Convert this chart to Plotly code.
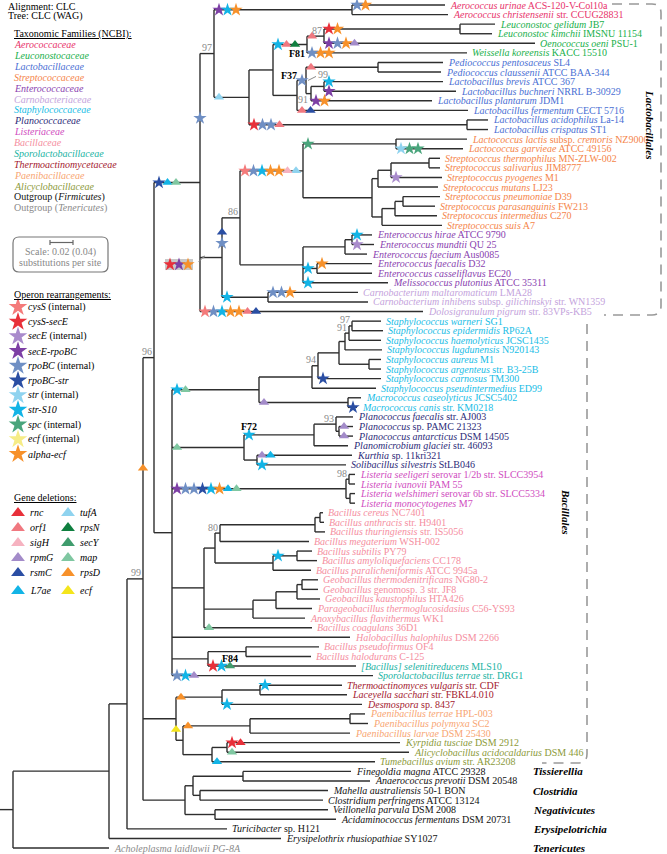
import plotly.graph_objects as go
from collections import defaultdict

# ---------------- taxonomic families ----------------
family_names = ["Aerococcaceae", "Leuconostocaceae", "Lactobacillaceae", "Streptococcaceae",
                "Enterococcaceae", "Carnobacteriaceae", "Staphylococcaceae", "Planococcaceae",
                "Listeriaceae", "Bacillaceae", "Sporolactobacillaceae", "Thermoactinomycetaceae",
                "Paenibacillaceae", "Alicyclobacillaceae", "Outgroup (<i>Firmicutes</i>)",
                "Outgroup (<i>Tenericutes</i>)"]
family_colors = ["#e8336b", "#19b04b", "#4a6fd4", "#f5854a", "#8a3fb0", "#c4a3dc", "#18bde6",
                 "#2c2a78", "#d04cc0", "#f58ea0", "#19b3a3", "#a3182e", "#f8a572", "#8c9a3a",
                 "#111111", "#8a8a8a"]

# ---------------- leaves (top to bottom) ----------------
leaf_labels = [
    "<i>Aerococcus urinae</i> ACS-120-V-Col10a", "<i>Aerococcus christensenii</i> str. CCUG28831",
    "<i>Leuconostoc gelidum</i> JB7", "<i>Leuconostoc kimchii</i> IMSNU 11154",
    "<i>Oenococcus oeni</i> PSU-1", "<i>Weissella koreensis</i> KACC 15510",
    "<i>Pediococcus pentosaceus</i> SL4", "<i>Pediococcus claussenii</i> ATCC BAA-344",
    "<i>Lactobacillus brevis</i> ATCC 367", "<i>Lactobacillus buchneri</i> NRRL B-30929",
    "<i>Lactobacillus plantarum</i> JDM1", "<i>Lactobacillus fermentum</i> CECT 5716",
    "<i>Lactobacillus acidophilus</i> La-14", "<i>Lactobacillus crispatus</i> ST1",
    "<i>Lactococcus lactis</i> subsp. <i>cremoris</i> NZ9000", "<i>Lactococcus garvieae</i> ATCC 49156",
    "<i>Streptococcus thermophilus</i> MN-ZLW-002", "<i>Streptococcus salivarius</i> JIM8777",
    "<i>Streptococcus pyogenes</i> M1", "<i>Streptococcus mutans</i> LJ23",
    "<i>Streptococcus pneumoniae</i> D39", "<i>Streptococcus parasanguinis</i> FW213",
    "<i>Streptococcus intermedius</i> C270", "<i>Streptococcus suis</i> A7",
    "<i>Enterococcus hirae</i> ATCC 9790", "<i>Enterococcus mundtii</i> QU 25",
    "<i>Enterococcus faecium</i> Aus0085", "<i>Enterococcus faecalis</i> D32",
    "<i>Enterococcus casseliflavus</i> EC20", "<i>Melissococcus plutonius</i> ATCC 35311",
    "<i>Carnobacterium maltaromaticum</i> LMA28",
    "<i>Carnobacterium inhibens</i> subsp. <i>gilichinskyi</i> str. WN1359",
    "<i>Dolosigranulum pigrum</i> str. 83VPs-KB5",
    "<i>Staphylococcus warneri</i> SG1", "<i>Staphylococcus epidermidis</i> RP62A",
    "<i>Staphylococcus haemolyticus</i> JCSC1435", "<i>Staphylococcus lugdunensis</i> N920143",
    "<i>Staphylococcus aureus</i> M1", "<i>Staphylococcus argenteus</i> str. B3-25B",
    "<i>Staphylococcus carnosus</i> TM300", "<i>Staphylococcus pseudintermedius</i> ED99",
    "<i>Macrococcus caseolyticus</i> JCSC5402", "<i>Macrococcus canis</i> str. KM0218",
    "<i>Planococcus faecalis</i> str. AJ003", "<i>Planococcus</i> sp. PAMC 21323",
    "<i>Planococcus antarcticus</i> DSM 14505", "<i>Planomicrobium glaciei</i> str. 46093",
    "<i>Kurthia</i> sp. 11kri321", "<i>Solibacillus silvestris</i> StLB046",
    "<i>Listeria seeligeri</i> serovar 1/2b str. SLCC3954", "<i>Listeria ivanovii</i> PAM 55",
    "<i>Listeria welshimeri</i> serovar 6b str. SLCC5334", "<i>Listeria monocytogenes</i> M7",
    "<i>Bacillus cereus</i> NC7401", "<i>Bacillus anthracis</i> str. H9401",
    "<i>Bacillus thuringiensis</i> str. IS5056", "<i>Bacillus megaterium</i> WSH-002",
    "<i>Bacillus subtilis</i> PY79", "<i>Bacillus amyloliquefaciens</i> CC178",
    "<i>Bacillus paralicheniformis</i> ATCC 9945a", "<i>Geobacillus thermodenitrificans</i> NG80-2",
    "<i>Geobacillus</i> genomosp. 3 str. JF8", "<i>Geobacillus kaustophilus</i> HTA426",
    "<i>Parageobacillus thermoglucosidasius</i> C56-YS93", "<i>Anoxybacillus flavithermus</i> WK1",
    "<i>Bacillus coagulans</i> 36D1", "<i>Halobacillus halophilus</i> DSM 2266",
    "<i>Bacillus pseudofirmus</i> OF4", "<i>Bacillus halodurans</i> C-125",
    "<i>[Bacillus] selenitireducens</i> MLS10", "<i>Sporolactobacillus terrae</i> str. DRG1",
    "<i>Thermoactinomyces vulgaris</i> str. CDF", "<i>Laceyella sacchari</i> str. FBKL4.010",
    "<i>Desmospora</i> sp. 8437", "<i>Paenibacillus terrae</i> HPL-003",
    "<i>Paenibacillus polymyxa</i> SC2", "<i>Paenibacillus larvae</i> DSM 25430",
    "<i>Kyrpidia tusciae</i> DSM 2912", "<i>Alicyclobacillus acidocaldarius</i> DSM 446",
    "<i>Tumebacillus avium</i> str. AR23208", "<i>Finegoldia magna</i> ATCC 29328",
    "<i>Anaerococcus prevotii</i> DSM 20548", "<i>Mahella australiensis</i> 50-1 BON",
    "<i>Clostridium perfringens</i> ATCC 13124", "<i>Veillonella parvula</i> DSM 2008",
    "<i>Acidaminococcus fermentans</i> DSM 20731", "<i>Turicibacter</i> sp. H121",
    "<i>Erysipelothrix rhusiopathiae</i> SY1027", "<i>Acholeplasma laidlawii PG-8A</i>",
]
leaf_family = [0, 0, 1, 1, 1, 1, 2, 2, 2, 2, 2, 2, 2, 2, 3, 3, 3, 3, 3, 3, 3, 3, 3, 3,
               4, 4, 4, 4, 4, 4, 5, 5, 5, 6, 6, 6, 6, 6, 6, 6, 6, 6, 6, 7, 7, 7, 7, 7, 7,
               8, 8, 8, 8, 9, 9, 9, 9, 9, 9, 9, 9, 9, 9, 9, 9, 9, 9, 9, 9, 10, 10,
               11, 11, 11, 12, 12, 12, 13, 13, 13, 14, 14, 14, 14, 14, 14, 14, 14, 15]
leaf_parent = ["aero", "aero", "leuco", "leuco", "n324", "F81", "pedio", "pedio", "n553", "n553",
               "n311", "F37", "acid", "acid", "lactococ", "lactococ", "n429", "n429", "n391",
               "n378", "n403", "n403", "n395", "n382", "n352e", "n352e", "n345e", "n317", "n317",
               "entero", "carno", "carno", "lacto",
               "n352s", "n352s", "n349s", "n345s", "n369", "n369", "n318", "staph", "macro", "macro",
               "n336", "n339p", "n339p", "n314", "n257", "n257",
               "list1", "list1", "list2", "list2", "n320", "n320", "n315", "n220", "n297b", "n297b",
               "n273b", "n302g", "n302g", "n297g", "n276", "n253", "n204", "bacillales", "n246",
               "n246", "n208", "bacillales", "n260", "n260", "n222t", "n350p", "n350p", "paeni",
               "n227", "n227", "alic", "n243", "n243", "n200c", "n200c", "n215v", "n215v",
               "turi", "firm", "root"]
leaf_tip = [445, 448, 495, 492, 535, 467, 443, 441, 443, 456, 432, 468, 488, 488, 467, 463,
            440, 440, 442, 438, 440, 435, 437, 442, 372, 374, 367, 372, 372, 388, 358, 368, 423,
            381, 383, 381, 382, 381, 381, 381, 376, 361, 357, 353, 353, 353, 348, 352, 346,
            355, 355, 355, 355, 323, 324, 325, 309, 312, 317, 311, 318, 318, 320, 312, 305, 312,
            350, 319, 311, 356, 373, 342, 347, 362, 365, 368, 350, 400, 409, 375,
            351, 370, 328, 323, 328, 336, 227, 281, 109]

# ---------------- internal nodes ----------------
node_ids = ["root", "firm", "turi", "main", "bacilli", "lacto", "lac97", "aero", "n249", "n273",
            "F81", "n324", "leuco", "F37", "n306", "pedio", "n311", "n553", "acid",
            "n222", "n240", "n303", "lactococ", "strep", "n378", "n391", "n429", "n382", "n395",
            "n403", "entero", "n345e", "n352e", "n317", "carno",
            "bacillales", "n259", "staph", "n318", "n339s", "n345s", "n349s", "n352s", "n369",
            "macro", "plano", "n314", "n336", "n339p", "n257", "list", "list1", "list2",
            "n204", "n215", "n220", "n315", "n320", "n273b", "n297b", "n253", "n276", "n297g",
            "n302g", "n208", "n246",
            "therm", "n222t", "n260", "nX", "paeni", "n350p", "alic", "n227",
            "clos", "n193", "n243", "n200c", "n215v"]
node_parent = [None, "root", "firm", "turi", "main", "bacilli", "lacto", "lac97", "lac97", "n249",
               "n273", "F81", "n324", "n273", "F37", "n306", "n306", "n311", "n249",
               "lacto", "n222", "n240", "n303", "n303", "strep", "n378", "n391", "strep", "n382",
               "n395", "n240", "entero", "n345e", "entero", "n222",
               "bacilli", "bacillales", "n259", "staph", "n318", "n339s", "n345s", "n349s", "n339s",
               "n259", "bacillales", "plano", "n314", "n336", "plano", "bacillales", "list", "list",
               "bacillales", "n204", "n215", "n220", "n315", "n215", "n273b", "n204", "n253", "n276",
               "n297g", "bacillales", "n208",
               "main", "therm", "n222t", "therm", "nX", "paeni", "nX", "alic",
               "main", "clos", "n193", "n193", "clos"]
node_x = [13, 109, 127, 143, 154, 200, 214, 352, 249, 273,
          307, 324, 460, 297, 306, 378, 311, 324, 467,
          222, 240, 303, 396, 372, 378, 391, 429, 382, 395,
          403, 303, 345, 352, 317, 268,
          172, 259, 312, 318, 339, 345, 349, 352, 369,
          348, 244, 314, 336, 339, 257, 346, 349, 350,
          204, 215, 220, 315, 320, 273, 297, 253, 276, 297,
          302, 208, 246,
          176, 222, 260, 183, 250, 350, 212, 227,
          185, 193, 243, 200, 215]
node_support = {"main": "99", "bacilli": "96", "lac97": "97", "n324": "87", "n306": "99",
                "n311": "91", "n240": "86", "n318": "94", "n349s": "91", "n352s": "97",
                "n336": "93", "list1": "98", "n220": "80"}

# ---------------- operon rearrangements / gene deletions (mapped on branches) ----------------
event_branch = ["aero", "L0", "lac97", "n249", "F81", "n324", "leuco", "L4", "L5", "n306", "pedio",
                "L8", "L9", "L10", "L11", "acid", "lacto", "n222", "n240", "n303", "lactococ", "L15",
                "L18", "L24", "L25", "n317", "L27", "L29", "carno", "L30", "L32",
                "n259", "L39", "macro", "L42", "plano", "n314", "L44", "L45", "L47", "L48", "list",
                "n297b", "L65", "L69", "L70", "n222t", "L71", "L73", "nX", "paeni", "L77", "L78",
                "L79", "bacilli"]
event_codes = [
    ["S:secE-rpoBC", "S:str-S10", "S:alpha-ecf"], ["S:rpoBC", "S:alpha-ecf"], ["S:rpoBC"],
    ["T:tufA"], ["S:str-S10", "T:orf1", "T:rpsN"], ["T:orf1"], ["S:cysS-secE", "S:alpha-ecf"],
    ["S:secE-rpoBC", "S:rpoBC", "S:alpha-ecf", "T:rpmG"], ["S:rpoBC", "S:alpha-ecf", "S:alpha-ecf"],
    ["S:rpoBC"], ["T:orf1"], ["S:str-S10"], ["S:secE-rpoBC"], ["S:secE-rpoBC", "S:alpha-ecf"],
    ["T:orf1", "T:rsmC"], ["S:cysS-secE", "S:rpoBC", "S:rpoBC", "T:orf1"],
    ["S:rpoBC-str", "T:L7ae", "T:map"], ["S:cysS-secE", "S:secE-rpoBC", "S:alpha-ecf"],
    ["T:rsmC", "S:rpoBC"],
    ["S:cysS", "S:rpoBC", "S:str-S10", "S:alpha-ecf", "S:alpha-ecf", "T:sigH", "T:tufA"],
    ["S:spc"], ["S:str", "S:spc", "S:spc"], ["S:secE"], ["S:str-S10"], ["S:secE"], ["S:str-S10"],
    ["S:alpha-ecf"], ["S:str-S10"], ["S:str-S10"], ["S:rpoBC", "S:rpoBC", "S:alpha-ecf"],
    ["S:cysS", "S:rpoBC", "S:str-S10", "S:alpha-ecf", "S:alpha-ecf", "T:orf1", "T:rsmC"],
    ["S:str-S10", "T:map"], ["S:rpoBC-str"], ["T:rpmG"], ["S:rpoBC-str"], ["T:map"], ["S:str-S10"],
    ["T:rpmG"], ["T:rpmG"], ["T:rpmG", "T:L7ae"], ["S:str-S10"],
    ["S:secE-rpoBC", "S:rpoBC", "S:rpoBC", "S:rpoBC-str", "S:str-S10", "S:alpha-ecf", "T:L7ae", "T:map"],
    ["S:str-S10"], ["T:map"], ["S:cysS-secE", "S:str-S10", "T:secY"], ["S:rpoBC", "S:str-S10", "T:rpmG"],
    ["T:rpsD"], ["S:str-S10"], ["S:str-S10"], ["T:ecf"], ["T:rpsD"], ["S:cysS-secE", "T:rnc"],
    ["T:map"], ["T:L7ae"], ["T:rpsD"]]
event_mode = ["h", "h", "v", "h", "h", "h", "h", "h", "h", "h", "h", "h", "h", "h", "h", "h", "h",
              "box", "v", "h", "h", "h", "h", "h", "h", "h", "h", "h", "h", "h", "h", "h", "h", "h",
              "h", "h", "h", "h", "h", "h", "h", "h", "h", "h", "h", "h", "h", "h", "h", "v", "h",
              "h", "h", "h", "v"]
event_tag = {"F81": "F81", "n306": "F37", "n314": "F72", "L69": "F84"}

# ---------------- legend contents ----------------
operon_keys = ["cysS", "cysS-secE", "secE", "secE-rpoBC", "rpoBC", "rpoBC-str", "str", "str-S10",
               "spc", "ecf", "alpha-ecf"]
operon_labels = ["<i>cysS</i> (internal)", "<i>cysS-secE</i>", "<i>secE</i> (internal)",
                 "<i>secE-rpoBC</i>", "<i>rpoBC</i> (internal)", "<i>rpoBC-str</i>",
                 "<i>str</i> (internal)", "<i>str-S10</i>", "<i>spc</i> (internal)",
                 "<i>ecf</i> (internal)", "<i>alpha-ecf</i>"]
star_colors = ["#f47a7a", "#e8303a", "#a98bcc", "#7d3fa5", "#6f8fc4", "#2a4ea3", "#8fd3ef",
               "#12b4e6", "#4aa57c", "#f6ec86", "#f7912a"]
deletion_keys = ["rnc", "orf1", "sigH", "rpmG", "rsmC", "L7ae", "tufA", "rpsN", "secY", "map",
                 "rpsD", "ecf"]
tri_colors = ["#e8303a", "#f07880", "#f6b2c0", "#a38bc9", "#2a4ea3", "#12b4e6", "#8fd3ef",
              "#0f7f3f", "#3f9c6d", "#7fc7a1", "#f7912a", "#f4e51c"]
class_labels = ["Tissierellia", "Clostridia", "Negativicutes", "Erysipelotrichia", "Tenericutes"]
class_rows = [80, 82, 84, 86, 88]

# ================= layout / drawing =================
SERIF = "Liberation Serif, Times New Roman, serif"
W, H = 667, 854
ROW0, ROWSTEP = 5.0, 9.58
STAR_STEP = 8.5
LINE_COL = "#2e2e2e"

STAR = dict(zip(operon_keys, star_colors))
TRI = dict(zip(deletion_keys, tri_colors))

nx = dict(zip(node_ids, node_x))
npar = dict(zip(node_ids, node_parent))
children = defaultdict(list)
for i, p in enumerate(leaf_parent):
    children[p].append("L%d" % i)
for nid, p in zip(node_ids, node_parent):
    if p:
        children[p].append(nid)

ypos = {}
for i in range(len(leaf_labels)):
    ypos["L%d" % i] = ROW0 + i * ROWSTEP


def get_y(k):
    if k in ypos:
        return ypos[k]
    ys = [get_y(c) for c in children[k]]
    ypos[k] = (min(ys) + max(ys)) / 2
    return ypos[k]


for nid in node_ids:
    get_y(nid)


def parent_of(k):
    if k.startswith("L") and k[1:].isdigit():
        return leaf_parent[int(k[1:])]
    return npar[k]


# branch segments
lx, ly = [], []
for nid in node_ids:
    ys = [ypos[c] for c in children[nid]]
    lx += [nx[nid], nx[nid], None]
    ly += [min(ys), max(ys), None]
    p = npar[nid]
    px = nx[p] if p else 0
    lx += [px, nx[nid], None]
    ly += [ypos[nid], ypos[nid], None]
for i in range(len(leaf_labels)):
    k = "L%d" % i
    lx += [nx[leaf_parent[i]], leaf_tip[i], None]
    ly += [ypos[k], ypos[k], None]

fig = go.Figure()
fig.add_trace(go.Scatter(x=lx, y=ly, mode="lines", line=dict(color=LINE_COL, width=1.4),
                         hoverinfo="skip", showlegend=False, cliponaxis=False))

shapes = []
ann = []


def txt(x, y, s, size=10, color="#000", xanchor="left", yanchor="middle", angle=0, under=False):
    f = dict(family=SERIF, size=size, color=color)
    if under:
        f["lineposition"] = "under"
    ann.append(dict(x=x, y=y, xref="x", yref="y", text=s, showarrow=False, xanchor=xanchor,
                    yanchor=yanchor, font=f, textangle=angle, borderpad=0))


# event markers
mk = defaultdict(lambda: ([], []))
for br, codes, mode in zip(event_branch, event_codes, event_mode):
    p = parent_of(br)
    px, py, cy = nx[p], ypos[p], ypos[br]
    n = len(codes)
    pts = []
    if mode == "h":
        pts = [(px + 5 + STAR_STEP * j, cy) for j in range(n)]
    elif mode == "v":
        c = (cy + py) / 2
        pts = [(px, c + 11 * (j - (n - 1) / 2)) for j in range(n)]
    elif mode == "box":
        pts = [(px - 30 + 9 * j, cy + 7) for j in range(n)]
        shapes.append(dict(type="rect", x0=pts[0][0] - 5, x1=pts[-1][0] + 5, y0=cy + 1.5,
                           y1=cy + 12.5, fillcolor="#c9c9c9", line=dict(width=0), layer="below"))
        ann.append(dict(x=px + 5, y=cy - 2, ax=px - 3, ay=cy + 6, xref="x", yref="y",
                        axref="x", ayref="y", showarrow=True, arrowhead=2, arrowsize=0.6,
                        arrowwidth=1, arrowcolor="#888", text=""))
    for (x, y), c in zip(pts, codes):
        mk[c][0].append(x)
        mk[c][1].append(y)
    if br in event_tag:
        lxp, lyp = pts[-1]
        tag = "<b>%s</b>" % event_tag[br]
        if br == "F81":
            txt(lxp + 2, lyp + 9, tag, xanchor="center")
        elif br == "n306":
            txt(lxp - 4, lyp - 5, tag, xanchor="right")
        else:
            txt(lxp, lyp - 8, tag, xanchor="center")

for c, (xs, ys) in mk.items():
    kind, key = c.split(":")
    if kind == "S":
        m = dict(symbol="star", size=10, color=STAR[key], line=dict(width=0))
    else:
        m = dict(symbol="triangle-up", size=9, color=TRI[key], line=dict(width=0))
    fig.add_trace(go.Scatter(x=xs, y=ys, mode="markers", marker=m, hoverinfo="skip",
                             showlegend=False, cliponaxis=False))

# bootstrap supports
for nid, s in node_support.items():
    x, y = nx[nid], ypos[nid]
    if nid == "n311":
        txt(x - 2, y + 6, s, color="#8a8a8a", xanchor="right")
    elif nid == "n306":
        txt(x + 11, y - 6, s, color="#8a8a8a", xanchor="left")
        shapes.append(dict(type="line", x0=x + 2, y0=y, x1=x + 10, y1=y - 4,
                           line=dict(color="#8a8a8a", width=1)))
    else:
        txt(x - 1, y - 6, s, color="#8a8a8a", xanchor="right")

# leaf labels
for i, lab in enumerate(leaf_labels):
    txt(leaf_tip[i] + 4, ypos["L%d" % i], lab, color=family_colors[leaf_family[i]])

# header & family legend
txt(7, 6, "Alignment: CLC")
txt(7, 16, "Tree: CLC (WAG)")
txt(13, 34, "Taxonomic Families (NCBI):", under=True)
for j, (nm, col) in enumerate(zip(family_names, family_colors)):
    s = nm if nm.startswith("Outgroup") else "<i>%s</i>" % nm
    txt(13, 44.5 + j * 10.9, s, color=col)

# scale box
shapes.append(dict(type="path", path="M 19 237 L 102 237 Q 108 237 108 243 L 108 266 Q 108 272 102 272 "
                   "L 19 272 Q 13 272 13 266 L 13 243 Q 13 237 19 237 Z",
                   line=dict(color="#777", width=1.2)))
shapes.append(dict(type="line", x0=50, x1=73, y0=242.5, y1=242.5, line=dict(color="#666", width=1.2)))
shapes.append(dict(type="line", x0=50, x1=50, y0=240, y1=245, line=dict(color="#666", width=1.2)))
shapes.append(dict(type="line", x0=73, x1=73, y0=240, y1=245, line=dict(color="#666", width=1.2)))
txt(60.5, 252, "Scale: 0.02 (0.04)", color="#888", xanchor="center")
txt(60.5, 262, "substitutions per site", color="#888", xanchor="center")

# operon legend
txt(13, 294, "Operon rearrangements:", under=True)
for j, lab in enumerate(operon_labels):
    y = 307 + j * 14.7
    fig.add_trace(go.Scatter(x=[18], y=[y], mode="markers", hoverinfo="skip", showlegend=False,
                             marker=dict(symbol="star", size=14, color=star_colors[j], line=dict(width=0))))
    txt(27, y, lab)

# gene deletion legend
txt(13, 497, "Gene deletions:", under=True)
del_rows = [512, 527, 542, 557, 572, 590]
for j, key in enumerate(deletion_keys):
    col = j // 6
    y = del_rows[j % 6]
    x = 18 + col * 50
    fig.add_trace(go.Scatter(x=[x], y=[y + 1], mode="markers", hoverinfo="skip", showlegend=False,
                             marker=dict(symbol="triangle-up", size=12, color=tri_colors[j],
                                         line=dict(width=0))))
    txt(x + 11, y, "<i>%s</i>" % key)

# clade brackets
shapes.append(dict(type="path", path="M 612 4 L 652 4 Q 661 4 661 13 L 661 306 Q 661 315 652 315 L 604 315",
                   line=dict(color="#999", width=1.6, dash="10px,7px")))
shapes.append(dict(type="path", path="M 587 324 L 587 754 Q 587 763 578 763 L 542 763",
                   line=dict(color="#999", width=1.6, dash="10px,7px")))
txt(650, 124, "<b><i>Lactobacillales</i></b>", size=11, xanchor="center", angle=90)
txt(566, 512, "<b><i>Bacillales</i></b>", size=11, xanchor="center", angle=90)
for lab, r in zip(class_labels, class_rows):
    txt(532, ROW0 + r * ROWSTEP, "<b><i>%s</i></b>" % lab, size=11)

fig.update_layout(width=W, height=H, margin=dict(l=0, r=0, t=0, b=0),
                  paper_bgcolor="white", plot_bgcolor="white",
                  xaxis=dict(range=[0, W], visible=False, fixedrange=True),
                  yaxis=dict(range=[H, 0], visible=False, fixedrange=True),
                  shapes=shapes, annotations=ann, showlegend=False)
# remove the browser's default 8px page margin so the figure sits at the page corner
fig.write_html("out.html", config={"displayModeBar": False, "staticPlot": True},
               post_script="document.body.style.margin='0px';")
